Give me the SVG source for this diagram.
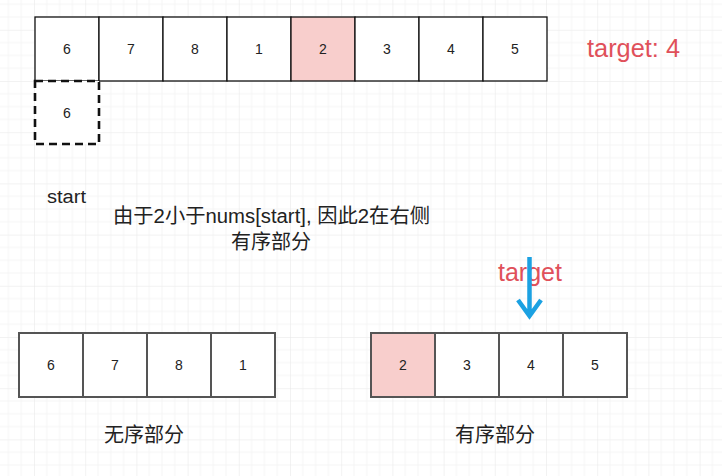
<svg xmlns="http://www.w3.org/2000/svg" width="722" height="476" viewBox="0 0 722 476">
<style>
.t{font-family:"Liberation Sans","Noto Sans CJK SC",Arial,sans-serif;fill:#222;}
.num{font-size:14px;text-anchor:middle;dominant-baseline:central;}
.cell{fill:#fff;stroke:#111;stroke-width:1.3;}
.cell2{fill:#fff;stroke:#555;stroke-width:2;}
.pink{fill:#f8cecc;}
.red{fill:#e0505a;font-family:"Liberation Sans",Arial,sans-serif;font-size:25px;}
.zh{font-size:20px;}
</style>
<defs>
<pattern id="grid" x="34" y="29.8" width="51.2" height="51.2" patternUnits="userSpaceOnUse">
<path d="M12.8 0V51.2M25.6 0V51.2M38.4 0V51.2M0 12.8H51.2M0 25.6H51.2M0 38.4H51.2" stroke="#f5f5f5" stroke-width="1" fill="none"/>
<path d="M0 0V51.2M0 0H51.2" stroke="#e6e6e6" stroke-width="1" fill="none"/>
</pattern>
</defs>
<rect width="722" height="476" fill="#fff"/>
<rect width="722" height="476" fill="url(#grid)"/>

<g id="top-array">
<rect class="cell" x="35" y="17" width="64" height="64"/>
<rect class="cell" x="99" y="17" width="64" height="64"/>
<rect class="cell" x="163" y="17" width="64" height="64"/>
<rect class="cell" x="227" y="17" width="64" height="64"/>
<rect class="cell pink" x="291" y="17" width="64" height="64"/>
<rect class="cell" x="355" y="17" width="64" height="64"/>
<rect class="cell" x="419" y="17" width="64" height="64"/>
<rect class="cell" x="483" y="17" width="64" height="64"/>
<text class="t num" x="67" y="49">6</text>
<text class="t num" x="131" y="49">7</text>
<text class="t num" x="195" y="49">8</text>
<text class="t num" x="259" y="49">1</text>
<text class="t num" x="323" y="49">2</text>
<text class="t num" x="387" y="49">3</text>
<text class="t num" x="451" y="49">4</text>
<text class="t num" x="515" y="49">5</text>
</g>

<g id="start-box">
<rect x="35" y="81" width="64" height="63" fill="#fff" stroke="#111" stroke-width="2.6" stroke-dasharray="8,5"/>
<text class="t num" x="67" y="113">6</text>
</g>

<g id="target-label">
<text class="red" x="587" y="57" textLength="93" lengthAdjust="spacingAndGlyphs">target: 4</text>
</g>

<g id="start-label">
<text class="t" x="47" y="203" font-size="18" textLength="39" lengthAdjust="spacingAndGlyphs">start</text>
</g>

<g id="explain">
<text class="t zh" x="113" y="223" textLength="317" lengthAdjust="spacingAndGlyphs">由于2小于nums[start], 因此2在右侧</text>
<text class="t zh" x="271" y="249" text-anchor="middle">有序部分</text>
</g>

<g id="left-array">
<rect class="cell2" x="19" y="333" width="64" height="64"/>
<rect class="cell2" x="83" y="333" width="64" height="64"/>
<rect class="cell2" x="147" y="333" width="64" height="64"/>
<rect class="cell2" x="211" y="333" width="64" height="64"/>
<text class="t num" x="51" y="365">6</text>
<text class="t num" x="115" y="365">7</text>
<text class="t num" x="179" y="365">8</text>
<text class="t num" x="243" y="365">1</text>
<text class="t zh" x="144" y="442" text-anchor="middle">无序部分</text>
</g>

<g id="right-array">
<rect class="cell2 pink" x="371" y="333" width="64" height="64"/>
<rect class="cell2" x="435" y="333" width="64" height="64"/>
<rect class="cell2" x="499" y="333" width="64" height="64"/>
<rect class="cell2" x="563" y="333" width="64" height="64"/>
<text class="t num" x="403" y="365">2</text>
<text class="t num" x="467" y="365">3</text>
<text class="t num" x="531" y="365">4</text>
<text class="t num" x="595" y="365">5</text>
<text class="t zh" x="495" y="442" text-anchor="middle">有序部分</text>
</g>

<g id="target-pointer">
<text class="red" x="498" y="281" textLength="64" lengthAdjust="spacingAndGlyphs">target</text>
</g>

<g id="connectors">
<path d="M529.5 257V316M518 300L529.5 316L541 300" fill="none" stroke="#1ba1e2" stroke-width="4.5"/>
</g>
</svg>
